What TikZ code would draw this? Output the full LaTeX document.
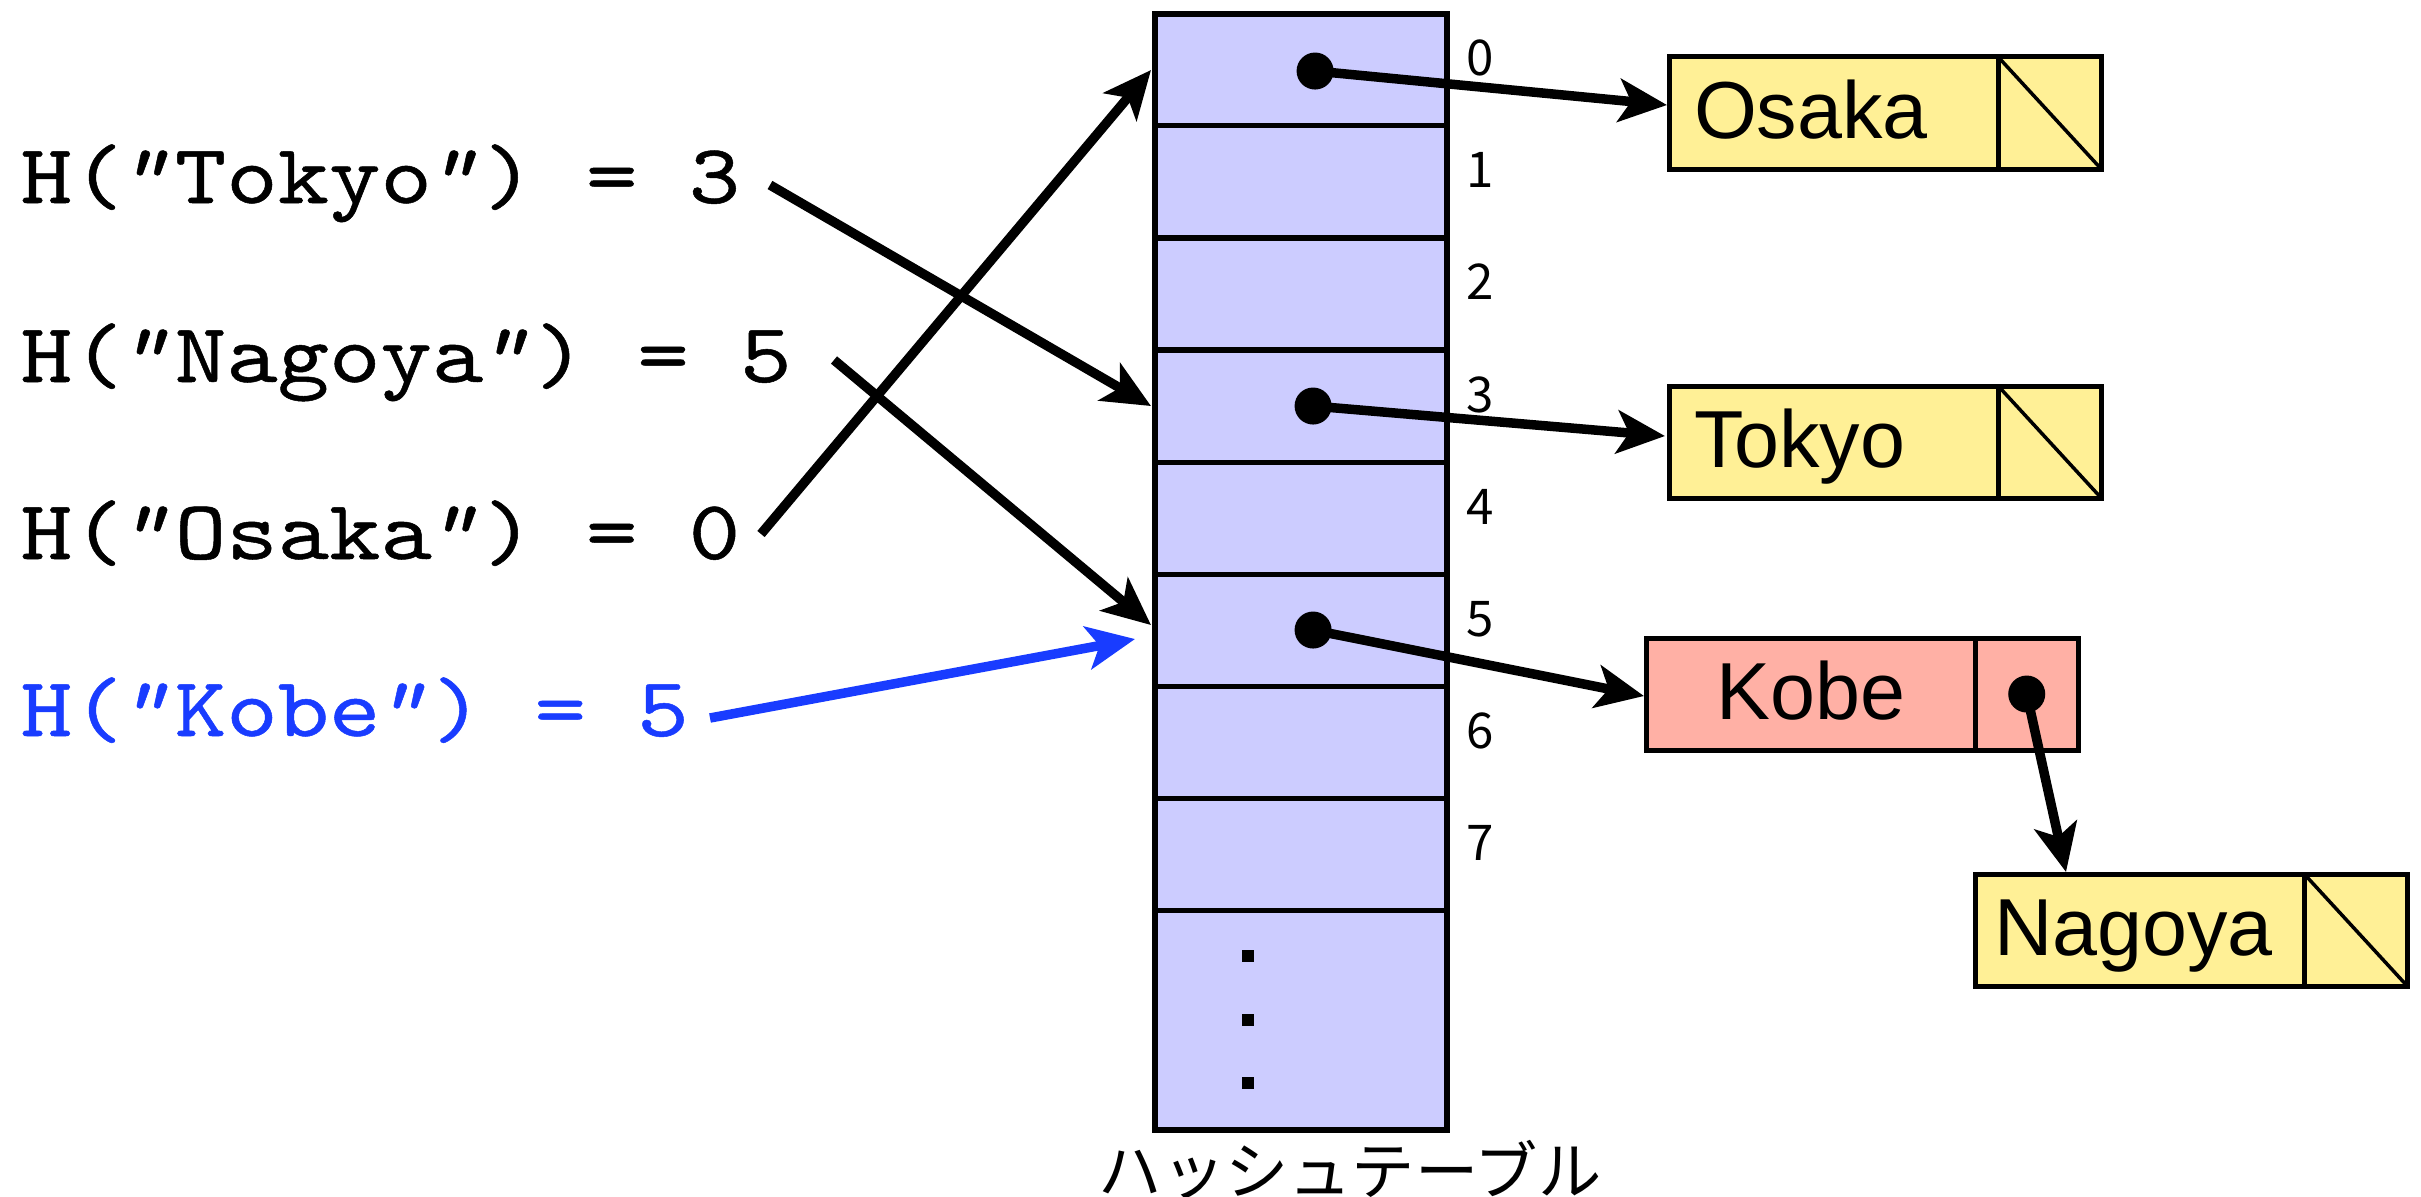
\documentclass[tikz,border=0pt]{standalone}
\usepackage{fontspec}
\usetikzlibrary{arrows.meta,calc}
\newfontfamily\jpfont{Noto Sans CJK JP}
\newfontfamily\boxfont{Liberation Sans}
\newfontfamily\codefont[FakeStretch=1.16,FakeBold=0.6,ItalicFont=lmmono10-italic.otf,ItalicFeatures={FakeStretch=1.16,FakeBold=0.6}]{lmmono10-regular.otf}
\newcommand{\cq}{{\itshape\kern-0.11em"\kern0.11em}}
\definecolor{tablefill}{RGB}{204,204,255}
\definecolor{nodeyellow}{RGB}{255,240,150}
\definecolor{nodered}{RGB}{255,176,165}
\definecolor{hashblue}{RGB}{25,60,255}
\begin{document}
\begin{tikzpicture}[x=0.01cm,y=-0.01cm,
 cell/.style={draw, line width=0.05cm, fill=tablefill, minimum width=2.92cm, minimum height=1.12cm, inner sep=0pt, outer sep=0pt, anchor=north west},
 idx/.style={font=\jpfont\fontsize{14}{14}\selectfont, anchor=base, inner sep=0pt},
 code/.style={font=\codefont\fontsize{24}{24}\selectfont, anchor=base west, inner sep=0pt},
 ptr/.style={line width=0.095cm, -{Stealth[length=0.48cm,width=0.43cm,inset=0.12cm]}},
 dotc/.style={circle, fill=black, minimum size=0.37cm, inner sep=0pt},
 keybox/.style={draw, line width=0.05cm, minimum height=1.12cm, text width=2.79cm, inner xsep=0.25cm, inner ysep=0pt, text height=0.62cm, text depth=0.12cm, font=\boxfont\fontsize{23}{23}\selectfont, anchor=north west, outer sep=0pt, align=left},
 ptrbox/.style={draw, line width=0.05cm, minimum height=1.12cm, minimum width=1.03cm, inner sep=0pt, anchor=north west, outer sep=0pt},
 nullline/.style={line width=0.035cm},
 sq/.style={fill=black, minimum size=0.12cm, inner sep=0pt}
]
\useasboundingbox (0,0) rectangle (2421,1197);

% hash table
\foreach \i in {0,...,7} \node[cell] (r\i) at (1155,{14+112*\i}) {};
\node[cell, minimum height=2.20cm] (r8) at (1155,910) {};
\draw[line width=0.055cm] (r0.north west) rectangle (r8.south east);
\foreach \i in {0,...,7} \node[idx] (n\i) at ($(r\i.north east)+(33,62)$) {\i};
\node[sq] (e1) at (1248,956) {};
\node[sq] (e2) at (1248,1020) {};
\node[sq] (e3) at (1248,1083) {};
\node[font=\jpfont\fontsize{18}{18}\selectfont, inner sep=0pt] (cap) at (1350,1170) {ハッシュテーブル};

% pointers in table
\node[dotc] (p0) at ($(r0.center)+(14,1)$) {};
\node[dotc] (p3) at ($(r3.center)+(12,0)$) {};
\node[dotc] (p5) at ($(r5.center)+(12,0)$) {};

% list nodes
\node[keybox, fill=nodeyellow] (osaka) at (1669,57) {Osaka};
\node[ptrbox, fill=nodeyellow] (osakap) at (osaka.north east) {};
\draw[nullline] (osakap.north west) -- (osakap.south east);

\node[keybox, fill=nodeyellow] (tokyo) at (1669,386) {Tokyo};
\node[ptrbox, fill=nodeyellow] (tokyop) at (tokyo.north east) {};
\draw[nullline] (tokyop.north west) -- (tokyop.south east);

\node[keybox, fill=nodered, align=center] (kobe) at (1646,638) {Kobe};
\node[ptrbox, fill=nodered] (kobep) at (kobe.north east) {};
\node[dotc] (pk) at (kobep.center) {};

\node[keybox, fill=nodeyellow, inner xsep=0.19cm, text width=2.91cm] (nagoya) at (1975,874) {Nagoya};
\node[ptrbox, fill=nodeyellow] (nagoyap) at (nagoya.north east) {};
\draw[nullline] (nagoyap.north west) -- (nagoyap.south east);

\draw[ptr] (p0.center) -- ($(osaka.west)+(-2,-8)$);
\draw[ptr] (p3.center) -- ($(tokyo.west)+(-4,-6)$);
\draw[ptr] (p5.center) -- ($(kobe.west)+(-2,2)$);
\draw[ptr] (pk.center) -- ($(nagoya.north west)+(91,-2)$);

% hash function results
\node[code] (hT) at (20,203) {H(\cq Tokyo\cq) = 3};
\node[code] (hN) at (20,382) {H(\cq Nagoya\cq) = 5};
\node[code] (hO) at (20,559) {H(\cq Osaka\cq) = 0};
\node[code, text=hashblue] (hK) at (20,736) {H(\cq Kobe\cq) = 5};

\coordinate (sT) at (770,185);
\coordinate (sN) at (834,360);
\coordinate (sO) at (761,534);
\coordinate (sK) at (710,718);
\draw[ptr] (sT) -- ($(r3.west)+(-4,0)$);
\draw[ptr] (sN) -- ($(r5.west)+(-4,-5)$);
\draw[ptr] (sO) -- ($(r0.west)+(-4,0)$);
\draw[ptr, hashblue] (sK) -- ($(r5.west)+(-20,9)$);
\end{tikzpicture}
\end{document}
